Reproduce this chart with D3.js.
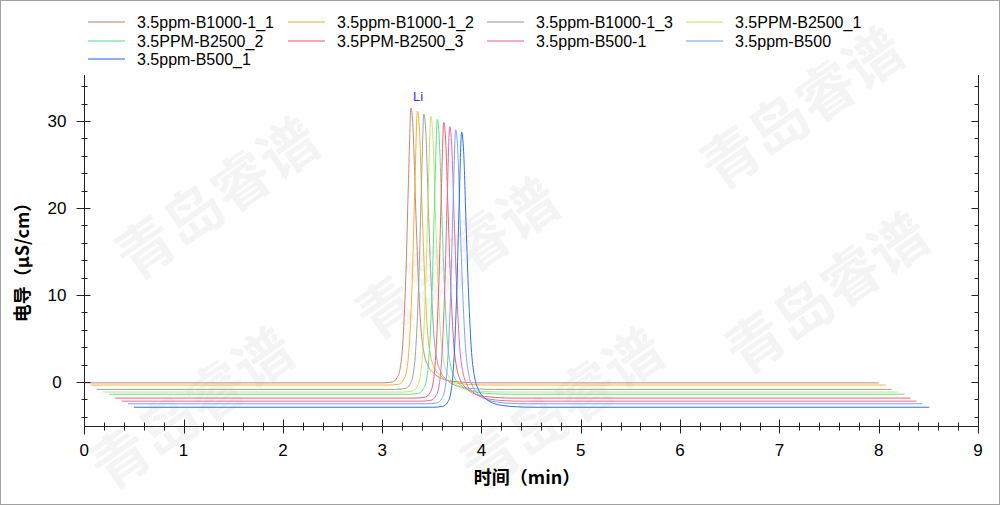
<!DOCTYPE html>
<html><head><meta charset="utf-8">
<script src="https://cdn.jsdelivr.net/npm/d3@7"></script>
<style>
html,body{margin:0;padding:0;background:#fff;}
svg{display:block;}
</style></head>
<body>
<svg id="chart" width="1000" height="505"></svg>
<script>
// ---- data ----
const seriesNames = ["3.5ppm-B1000-1_1","3.5ppm-B1000-1_2","3.5ppm-B1000-1_3","3.5PPM-B2500_1",
  "3.5PPM-B2500_2","3.5PPM-B2500_3","3.5ppm-B500-1","3.5ppm-B500","3.5ppm-B500_1"];
const seriesColors = ["#c4877a","#f5b335","#9aa59e","#c5e86c","#5ee38a","#f0616e","#e46aa6","#7ea5f5","#2f6ff0"];

const s1 = [[0,-0.1],[3.00,-0.1],[3.10,0.0],[3.15,0.5],[3.18,1.5],[3.21,4.9],[3.24,12.9],[3.265,23.3],[3.29,31.5],[3.31,29.3],[3.335,20.8],[3.36,12.9],[3.39,6.2],[3.42,3.4],[3.46,1.9],[3.52,1.0],[3.60,0.4],[3.70,0.1],[3.85,-0.05],[4.00,-0.1],[8.00,-0.1]];
const s2 = [[0.0625,-0.35],[3.065,-0.35],[3.165,-0.25],[3.215,0.25],[3.245,1.25],[3.275,4.65],[3.305,12.65],[3.33,23.05],[3.355,31.15],[3.375,29.05],[3.40,20.55],[3.425,12.65],[3.455,5.95],[3.485,3.15],[3.525,1.65],[3.585,0.75],[3.665,0.15],[3.765,-0.15],[3.915,-0.3],[4.065,-0.35],[8.07,-0.35]];
const s3 = [[0.125,-0.85],[3.13,-0.85],[3.23,-0.75],[3.28,-0.25],[3.31,0.75],[3.34,4.15],[3.37,12.15],[3.395,22.55],[3.42,30.8],[3.44,28.55],[3.465,20.05],[3.49,12.15],[3.52,5.45],[3.55,2.65],[3.59,1.15],[3.65,0.25],[3.73,-0.35],[3.83,-0.65],[3.98,-0.8],[4.13,-0.85],[8.13,-0.85]];
const s4 = [[0.19,-1.15],[3.20,-1.15],[3.30,-1.05],[3.35,-0.55],[3.38,0.45],[3.41,3.85],[3.44,11.85],[3.465,22.25],[3.49,30.55],[3.51,28.25],[3.535,19.75],[3.56,11.85],[3.59,5.15],[3.62,2.35],[3.66,0.85],[3.72,-0.05],[3.80,-0.65],[3.90,-0.95],[4.05,-1.1],[4.20,-1.15],[8.19,-1.15]];
const s5 = [[0.25,-1.4],[3.265,-1.4],[3.365,-1.3],[3.415,-0.8],[3.445,0.2],[3.475,3.6],[3.505,11.6],[3.53,22.0],[3.555,30.2],[3.575,28.0],[3.60,19.5],[3.625,11.6],[3.655,4.9],[3.685,2.1],[3.725,0.6],[3.785,-0.3],[3.865,-0.9],[3.965,-1.2],[4.115,-1.35],[4.265,-1.4],[8.26,-1.4]];
const s6 = [[0.31,-1.85],[3.33,-1.85],[3.43,-1.75],[3.48,-1.25],[3.51,-0.25],[3.54,3.15],[3.57,11.15],[3.595,21.55],[3.62,29.85],[3.64,27.55],[3.665,19.05],[3.69,11.15],[3.72,4.45],[3.75,1.65],[3.79,0.15],[3.85,-0.75],[3.93,-1.35],[4.03,-1.65],[4.18,-1.8],[4.33,-1.85],[8.32,-1.85]];
const s7 = [[0.375,-2.2],[3.39,-2.2],[3.49,-2.1],[3.54,-1.6],[3.57,-0.6],[3.60,2.8],[3.63,10.8],[3.655,21.2],[3.68,29.35],[3.70,27.2],[3.725,18.7],[3.75,10.8],[3.78,4.1],[3.81,1.3],[3.85,-0.2],[3.91,-1.1],[3.99,-1.7],[4.09,-2.0],[4.24,-2.15],[4.39,-2.2],[8.38,-2.2]];
const s8 = [[0.44,-2.5],[3.45,-2.5],[3.55,-2.4],[3.60,-1.9],[3.63,-0.9],[3.66,2.5],[3.69,10.5],[3.715,20.9],[3.74,29.0],[3.76,26.9],[3.785,18.4],[3.81,10.5],[3.84,3.8],[3.87,1.0],[3.91,-0.5],[3.97,-1.4],[4.05,-2.0],[4.15,-2.3],[4.30,-2.45],[4.45,-2.5],[8.44,-2.5]];
const s9 = [[0.5,-2.9],[3.51,-2.9],[3.61,-2.8],[3.66,-2.3],[3.69,-1.3],[3.72,2.1],[3.75,10.1],[3.775,20.5],[3.80,28.75],[3.82,26.5],[3.845,18.0],[3.87,10.1],[3.90,3.4],[3.93,0.6],[3.97,-0.9],[4.03,-1.8],[4.11,-2.4],[4.21,-2.7],[4.36,-2.85],[4.51,-2.9],[8.51,-2.9]];
const seriesData = [s1,s2,s3,s4,s5,s6,s7,s8,s9];

const xTickValues = [0,1,2,3,4,5,6,7,8,9];
const yTickValues = [0,10,20,30];
const xTitle = "时间（min）";
const yTitle = "电导（μS/cm）";
const peakLabel = {text:"Li", t:3.29, v:31.5};
const watermark = "青岛睿谱";

// ---- drawing ----
const svg = d3.select("#chart");
const W = 1000, H = 505;
const x = d3.scaleLinear().domain([0,9]).range([84.3,978]);
const y = d3.scaleLinear().domain([-5,35.3]).range([425.5,75]);
const FONT = "'Liberation Sans', Arial, sans-serif";
const CJK = "'Noto Sans CJK SC', sans-serif";

// watermark (kept fully inside the picture)
const wmPos = [[215,195],[455,255],[825,290],[800,105],[190,405],[560,405]];
svg.append("g").selectAll("text").data(wmPos).join("text")
  .attr("transform", d => `translate(${d[0]},${d[1]}) rotate(-35)`)
  .attr("text-anchor","middle").attr("dominant-baseline","central")
  .attr("font-family", CJK).attr("font-weight","bold").attr("font-size",58)
  .attr("fill","#000").attr("fill-opacity",0.045)
  .text(watermark);

// border
svg.append("rect").attr("x",0.5).attr("y",0.5).attr("width",W-1).attr("height",H-1)
  .attr("fill","none").attr("stroke","#a0a0a0");

// series
const line = d3.line().x(d=>x(d[0])).y(d=>y(d[1])).curve(d3.curveMonotoneX);
svg.append("g").selectAll("path").data(seriesData).join("path")
  .attr("d", line).attr("fill","none")
  .attr("stroke",(d,i)=>seriesColors[i]).attr("stroke-width",1);

// axes
const ax = svg.append("g").attr("stroke","#222").attr("stroke-width",1).attr("fill","none");
const y0 = Math.round(y(-5))+0.5;
const xL = Math.round(x(0))+0.5;
const xR = Math.round(x(9))+0.5;
ax.append("line").attr("x1",xL).attr("x2",xL).attr("y1",y(35.3)).attr("y2",y0+8);
ax.append("line").attr("x1",xL).attr("x2",xR).attr("y1",y0).attr("y2",y0);
ax.append("line").attr("x1",xR).attr("x2",xR).attr("y1",y(35.3)).attr("y2",y0);

const yMinor = d3.range(-4,35,2).filter(v=>!yTickValues.includes(v));
const xMinor = d3.range(0,9.001,0.2).map(v=>+v.toFixed(1)).filter(v=>!xTickValues.includes(v));
yTickValues.forEach(v=>{ const yy=Math.round(y(v))+0.5;
  ax.append("line").attr("x1",xL-8).attr("x2",xL+6).attr("y1",yy).attr("y2",yy);
  ax.append("line").attr("x1",xR-7).attr("x2",xR).attr("y1",yy).attr("y2",yy);});
yMinor.forEach(v=>{ const yy=Math.round(y(v))+0.5;
  ax.append("line").attr("x1",xL-3).attr("x2",xL+3).attr("y1",yy).attr("y2",yy);
  ax.append("line").attr("x1",xR-4).attr("x2",xR).attr("y1",yy).attr("y2",yy);});
xTickValues.forEach(v=>{ const xx=Math.round(x(v))+0.5;
  ax.append("line").attr("x1",xx).attr("x2",xx).attr("y1",y0-7).attr("y2",y0+7);});
xMinor.forEach(v=>{ const xx=Math.round(x(v))+0.5;
  ax.append("line").attr("x1",xx).attr("x2",xx).attr("y1",y0-4).attr("y2",y0+4);});

// tick labels
svg.append("g").selectAll("text").data(yTickValues).join("text")
  .attr("x",57).attr("y",d=>y(d)).attr("dy","0.36em").attr("text-anchor","middle")
  .attr("font-family",FONT).attr("font-size",17).attr("fill","#000").text(d=>d);
svg.append("g").selectAll("text").data(xTickValues).join("text")
  .attr("x",d=>x(d)).attr("y",450).attr("dy","0.36em").attr("text-anchor","middle")
  .attr("font-family",FONT).attr("font-size",17).attr("fill","#000").text(d=>d);

// axis titles
svg.append("text").attr("x",527).attr("y",478).attr("dy","0.36em").attr("text-anchor","middle")
  .attr("font-family",CJK).attr("font-weight","bold").attr("font-size",18).attr("fill","#000").text(xTitle);
svg.append("text").attr("transform","translate(23,258) rotate(-90)").attr("dy","0.36em").attr("text-anchor","middle")
  .attr("font-family",CJK).attr("font-weight","bold").attr("font-size",18).attr("fill","#000").text(yTitle);

// peak label
svg.append("text").attr("x",x(peakLabel.t)+7).attr("y",y(peakLabel.v)-7).attr("text-anchor","middle")
  .attr("font-family",FONT).attr("font-size",13).attr("fill","#3a2ee0").text(peakLabel.text);

// legend
const colX = [88,288,487,686], rowY = [22,41,59];
const lg = svg.append("g").selectAll("g").data(seriesNames).join("g")
  .attr("transform",(d,i)=>`translate(${colX[i%4]},${rowY[Math.floor(i/4)]})`);
lg.append("line").attr("x1",0).attr("x2",37).attr("y1",0).attr("y2",0)
  .attr("stroke",(d,i)=>seriesColors[i]).attr("stroke-width",1.5).attr("stroke-opacity",0.75);
lg.append("text").attr("x",49).attr("y",0).attr("dy","0.36em")
  .attr("font-family",FONT).attr("font-size",16).attr("fill","#000").text(d=>d);
</script>
</body></html>
